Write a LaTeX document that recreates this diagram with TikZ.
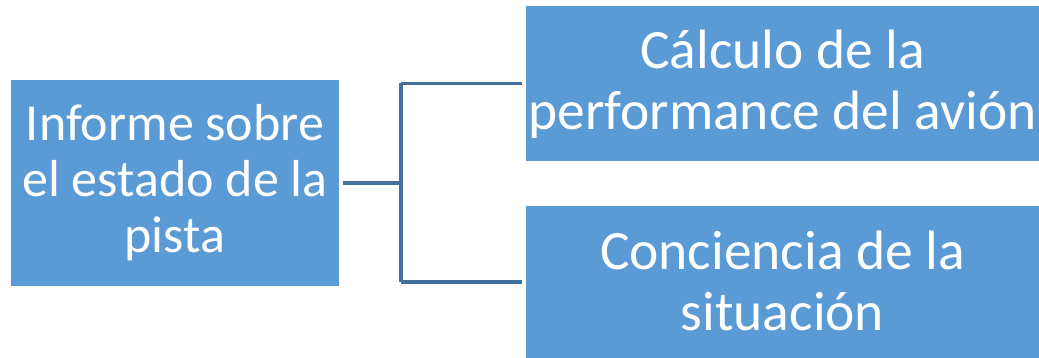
\documentclass[tikz,border=0pt]{standalone}
\usepackage{fontspec}
\setmainfont{Carlito}
\begin{document}
\begin{tikzpicture}[x=1pt,y=-1pt,
  box/.style={fill=boxblue, draw=none, inner sep=0pt},
  lefttext/.style={text=white, align=center, inner sep=0pt, anchor=base,
    font=\fontsize{52}{56}\selectfont},
  righttext/.style={text=white, align=center, inner sep=0pt, anchor=base,
    font=\fontsize{55.5}{61}\selectfont},
  link/.style={draw=linkblue, line width=3.5pt}]
\definecolor{boxblue}{HTML}{5B9BD5}
\definecolor{linkblue}{HTML}{41719C}
\useasboundingbox (0,0) rectangle (1039,358);
% source box on the left (text placed by the baseline of its last line)
\node[box, minimum width=328pt, minimum height=206pt] (src) at (175,183) {};
\node[lefttext] (srctext) at (175,253) {Informe sobre\\el estado de la\\pista};
% two target boxes on the right
\node[box, minimum width=513pt, minimum height=155pt] (perf) at (782.5,83.5) {};
\node[righttext] (perftext) at (782.5,130) {Cálculo de la\\performance del avión};
\node[box, minimum width=513pt, minimum height=152pt] (sit) at (782.5,282) {};
\node[righttext] (sittext) at (782.5,330) {Conciencia de la\\situación};
% bracket connector
\coordinate (fork) at (401,183);
\draw[link] ([xshift=4pt]src.east) -- (fork);
\draw[link] (fork |- perf.west) -- ([xshift=-4pt]perf.west);
\draw[link] (fork |- sit.west) -- ([xshift=-4pt]sit.west);
\draw[link] (fork |- perf.west) -- (fork |- sit.west);
\end{tikzpicture}
\end{document}
